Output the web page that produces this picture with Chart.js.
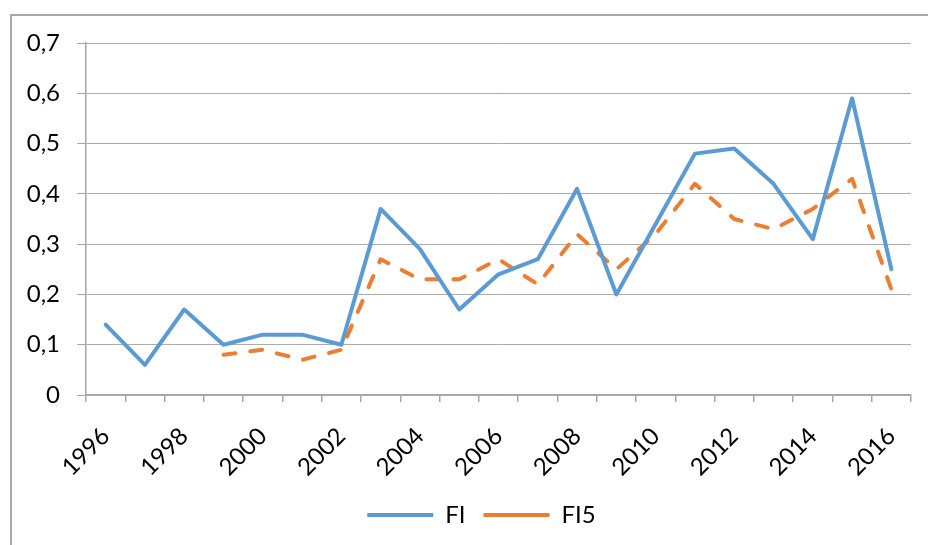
<!DOCTYPE html>
<html>
<head>
<meta charset="utf-8">
<script src="https://cdn.jsdelivr.net/npm/chart.js@4.4.1/dist/chart.umd.min.js"></script>
<style>
  html, body { margin: 0; padding: 0; background: #fff; overflow: hidden; }
  .frame {
    position: absolute; left: 10px; top: 14px; width: 1000px; height: 600px;
    border-left: 2px solid #a9a9a9; border-top: 2px solid #a9a9a9;
  }
  #chart { position: absolute; left: 0; top: 0; }
</style>
</head>
<body>
<div class="frame"></div>
<canvas id="chart" width="928" height="545"></canvas>
<script>
const years = ['1996', '1997', '1998', '1999', '2000', '2001', '2002', '2003', '2004', '2005', '2006',
  '2007', '2008', '2009', '2010', '2011', '2012', '2013', '2014', '2015', '2016'];
const fiValues = [0.14, 0.06, 0.17, 0.10, 0.12, 0.12, 0.10, 0.37, 0.29, 0.17, 0.24,
  0.27, 0.41, 0.20, 0.34, 0.48, 0.49, 0.42, 0.31, 0.59, 0.25];
const fi5Values = [null, null, null, 0.08, 0.09, 0.07, 0.09, 0.27, 0.23, 0.23, 0.27,
  0.22, 0.32, 0.25, 0.32, 0.42, 0.35, 0.33, 0.37, 0.43, 0.21];
const yMin = 0;
const yMax = 0.7;
const yStep = 0.1;

const font = { family: 'Lato', size: 24 };
const axisGray = '#a6a6a6';

// the legend sits a bit right of the canvas centre in the original
const legendShift = {
  id: 'legendShift',
  afterLayout(chart) {
    chart.legend.left += 26;
    chart.legend.right += 26;
  }
};

const ctx = document.getElementById('chart').getContext('2d');
new Chart(ctx, {
  type: 'line',
  data: {
    labels: years,
    datasets: [
      {
        label: 'FI',
        data: fiValues,
        borderColor: '#5b9bd5',
        backgroundColor: '#5b9bd5',
        borderWidth: 4,
        pointRadius: 0,
        pointStyle: 'line',
        tension: 0,
        borderCapStyle: 'round',
        borderJoinStyle: 'round'
      },
      {
        label: 'FI5',
        data: fi5Values,
        borderColor: '#ed7d31',
        backgroundColor: '#ed7d31',
        borderWidth: 4,
        borderDash: [12, 15],
        pointRadius: 0,
        pointStyle: 'line',
        tension: 0,
        borderCapStyle: 'round',
        borderJoinStyle: 'round'
      }
    ]
  },
  options: {
    responsive: false,
    animation: false,
    layout: { padding: { left: 0, top: 43, right: 17, bottom: 8 } },
    scales: {
      x: {
        offset: true,
        grid: {
          offset: true,
          drawOnChartArea: false,
          drawTicks: true,
          tickLength: 7,
          color: axisGray,
          lineWidth: 1.5
        },
        border: { display: true, color: axisGray, width: 1.5 },
        ticks: {
          autoSkip: false,
          minRotation: 45,
          maxRotation: 45,
          padding: 20,
          color: '#000',
          font: font,
          callback: function (value, index) {
            return index % 2 === 0 ? years[index] : '';
          }
        },
        afterFit: function (scale) {
          scale.height = 90;
          scale.paddingLeft = 0;
          scale.paddingRight = 0;
        }
      },
      y: {
        min: yMin,
        max: yMax,
        grid: {
          color: '#ababab',
          lineWidth: 1,
          borderDash: [3, 3],
          tickLength: 9,
          tickBorderDash: [],
          tickColor: axisGray
        },
        border: { display: true, color: axisGray, width: 1.5 },
        ticks: {
          stepSize: yStep,
          padding: 17,
          color: '#000',
          font: font,
          callback: function (v) {
            return v === 0 ? '0' : v.toFixed(1).replace('.', ',');
          }
        },
        afterFit: function (scale) { scale.width = 86; }
      }
    },
    plugins: {
      tooltip: { enabled: false },
      legend: {
        position: 'bottom',
        labels: {
          usePointStyle: true,
          pointStyleWidth: 66,
          padding: 18,
          color: '#000',
          font: font
        }
      }
    }
  },
  plugins: [legendShift]
});
</script>
</body>
</html>
